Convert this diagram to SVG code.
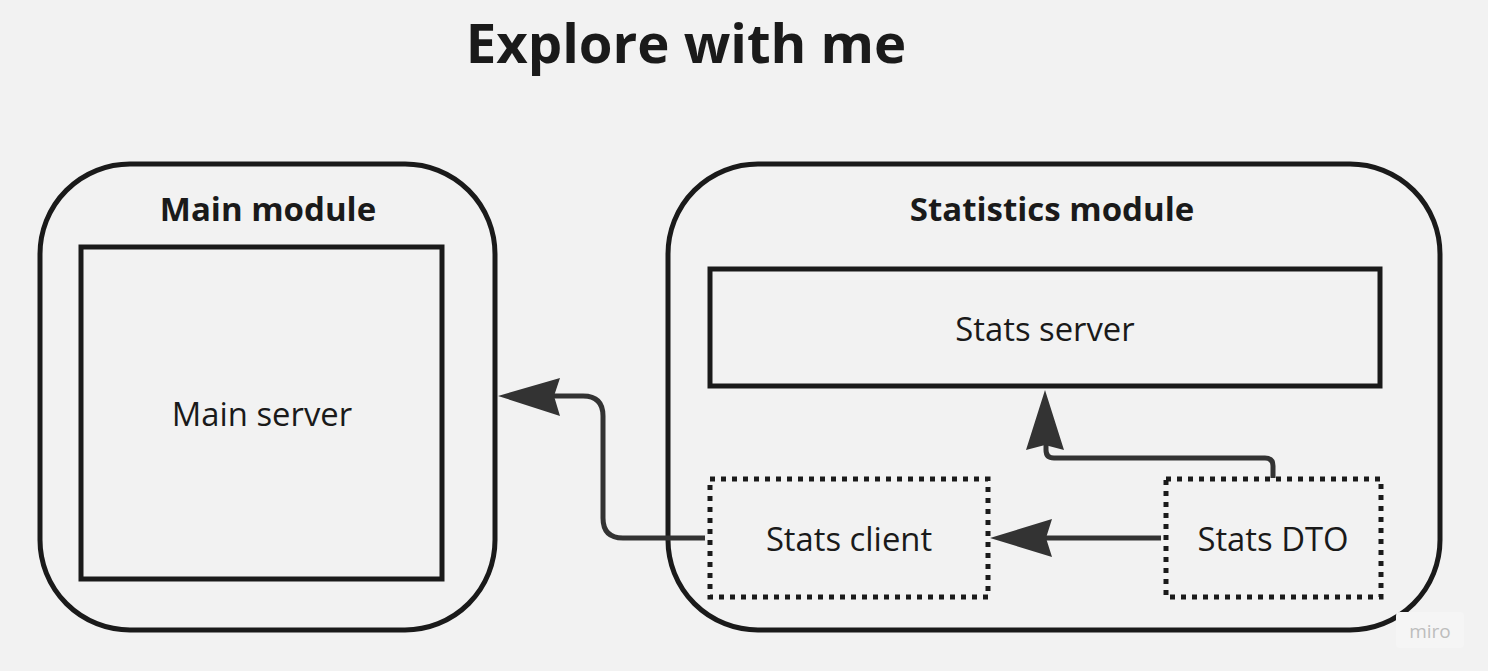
<svg xmlns="http://www.w3.org/2000/svg" width="1488" height="671" viewBox="0 0 1488 671">
<style>
.container{fill:none;stroke:#1a1a1a;stroke-width:5}
.box{fill:none;stroke:#1a1a1a;stroke-width:5}
.dotted{fill:none;stroke:#1a1a1a;stroke-width:5;stroke-dasharray:5 6}
.conn{fill:none;stroke:#333333;stroke-width:5;stroke-linejoin:round}
.head{fill:#333333}
.t{font-family:"Open Sans","Noto Sans",sans-serif;fill:#1a1a1a;text-anchor:middle}
.title{font-size:54.5px;font-weight:700}
.h{font-size:33px;font-weight:700}
.n{font-size:32.8px;font-weight:400}
</style>
<rect width="1488" height="671" fill="#f2f2f2"/>
<text class="t title" x="686" y="63">Explore with me</text>
<g id="main-module">
<rect class="container" x="40" y="164" width="455" height="466" rx="90"/>
<text class="t h" x="268" y="221">Main module</text>
</g>
<g id="main-server">
<rect class="box" x="81" y="247" width="361" height="332"/>
<text class="t n" x="262" y="426">Main server</text>
</g>
<g id="statistics-module">
<rect class="container" x="668" y="164" width="772" height="466" rx="90"/>
<text class="t h" x="1052" y="221">Statistics module</text>
</g>
<g id="stats-server">
<rect class="box" x="710" y="269" width="670" height="117"/>
<text class="t n" x="1045" y="341">Stats server</text>
</g>
<g id="stats-client">
<rect class="dotted" x="710" y="479" width="278" height="118"/>
<text class="t n" x="849" y="551">Stats client</text>
</g>
<g id="stats-dto">
<rect class="dotted" x="1166" y="479" width="215" height="118"/>
<text class="t n" x="1273" y="551">Stats DTO</text>
</g>
<g id="connectors">
<path class="conn" d="M705 538 H623 Q603 538 603 518 V416 Q603 396 583 396 H550"/>
<polygon class="head" points="498,396 560,378 554,396 560,416"/>
<path class="conn" d="M1161 538 H1045"/>
<polygon class="head" points="990,538 1052,519 1046,538 1052,557"/>
<path class="conn" d="M1273 478 V466 Q1273 458 1265 458 H1054 Q1046 458 1046 450 V445"/>
<polygon class="head" points="1045,390 1026,450 1045,445 1064,450"/>
</g>
<g id="watermark">
<rect x="1396" y="612" width="68" height="36" rx="4" fill="#f5f5f5"/>
<text x="1430" y="638" font-family="Open Sans, sans-serif" font-size="19" fill="#bdbdbd" text-anchor="middle">miro</text>
</g>
</svg>
